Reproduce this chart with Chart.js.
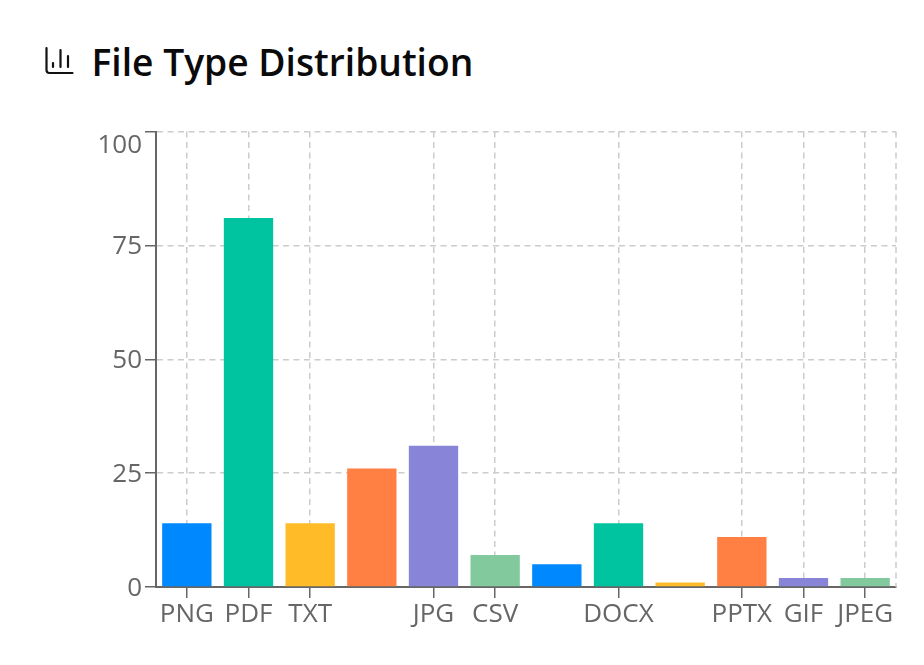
<!DOCTYPE html>
<html>

<head>
	<meta charset="utf-8">
	<title>File Type Distribution</title>
	<script src="https://cdn.jsdelivr.net/npm/chart.js@4"></script>
	<style>
		body { margin: 0; background: #fff; font-family: "Open Sans", sans-serif; }
		.title { position: absolute; left: 91.5px; top: 36px; margin: 0; font-size: 37.2px; font-weight: 600; line-height: 52px; color: #0a0a0a; white-space: nowrap; }
		.icon { position: absolute; left: 45px; top: 46px; }
		.wrap { position: absolute; left: 80px; top: 120px; width: 830px; height: 530px; }
	</style>
</head>

<body>
	<svg class="icon" width="30" height="30" viewBox="0 0 30 30" fill="none" stroke="#111" stroke-width="2.2" stroke-linecap="round">
		<path d="M1.5 2v22a3 3 0 0 0 3 3h23" />
		<path d="M8 21v-4M15.5 21V4M23 21V10" />
	</svg>
	<h2 class="title">File Type Distribution</h2>
	<div class="wrap"><canvas id="myChart" width="830" height="530"></canvas></div>

	<script>
		const categories = ['PNG', 'PDF', 'TXT', '', 'JPG', 'CSV', '', 'DOCX', '', 'PPTX', 'GIF', 'JPEG'];
		const counts = [14, 81, 14, 26, 31, 7, 5, 14, 1, 11, 2, 2];
		const palette = ['#0088FE', '#00C49F', '#FFBB28', '#FF8042', '#8884D8', '#82CA9D'];
		const yTicks = [0, 25, 50, 75, 100];

		const gridColor = '#cccccc';
		const axisColor = '#666666';
		const tickFont = { family: '"Open Sans", sans-serif', size: 26 };
		const dash = [6, 4.5];

		// dashed right edge of the grid
		const gridEdges = {
			id: 'gridEdges',
			beforeDatasetsDraw(chart) {
				const a = chart.chartArea, ctx = chart.ctx;
				ctx.save();
				ctx.strokeStyle = gridColor;
				ctx.lineWidth = 1.5;
				ctx.setLineDash(dash);
				ctx.beginPath();
				ctx.moveTo(a.right, a.top);
				ctx.lineTo(a.right, a.bottom);
				ctx.stroke();
				ctx.restore();
			}
		};

		new Chart(document.getElementById('myChart'), {
			type: 'bar',
			data: {
				labels: categories,
				datasets: [{
					data: counts,
					backgroundColor: counts.map((v, i) => palette[i % palette.length]),
					barPercentage: 0.8,
					categoryPercentage: 1
				}]
			},
			options: {
				responsive: false,
				animation: false,
				devicePixelRatio: 1,
				layout: { padding: { top: 11.5, right: 14, left: 0, bottom: 0 } },
				plugins: { legend: { display: false }, tooltip: { enabled: false } },
				scales: {
					x: {
						grid: {
							offset: false,
							color: gridColor,
							lineWidth: 1.5,
							tickColor: axisColor,
							tickLength: 11,
							tickBorderDash: []
						},
						border: { color: axisColor, width: 2, dash: dash },
						ticks: {
							color: axisColor,
							font: tickFont,
							padding: 1,
							autoSkip: false,
							maxRotation: 0
						},
						afterBuildTicks(scale) {
							// the unlabelled categories have no tick or grid line
							scale.ticks = scale.ticks.filter(t => categories[t.value] !== '');
						},
						afterFit(scale) {
							scale.height = 63;
							scale.paddingLeft = 0;
							scale.paddingRight = 0;
						}
					},
					y: {
						min: 0,
						max: 100,
						afterBuildTicks(scale) {
							scale.ticks = yTicks.map(v => ({ value: v }));
						},
						grid: {
							color: gridColor,
							lineWidth: 1.5,
							tickColor: axisColor,
							tickLength: 11,
							tickBorderDash: []
						},
						border: { color: axisColor, width: 2, dash: dash },
						ticks: {
							color: axisColor,
							font: { ...tickFont, lineHeight: 1 },
							padding: 3,
							labelOffset: 1.5,
							// top label sits below its tick
							callback: v => v === 100 ? ['', '100'] : String(v)
						},
						afterFit(scale) {
							scale.width = 76;
							scale.paddingTop = 0;
							scale.paddingBottom = 0;
						}
					}
				}
			},
			plugins: [gridEdges]
		});
	</script>
</body>

</html>
